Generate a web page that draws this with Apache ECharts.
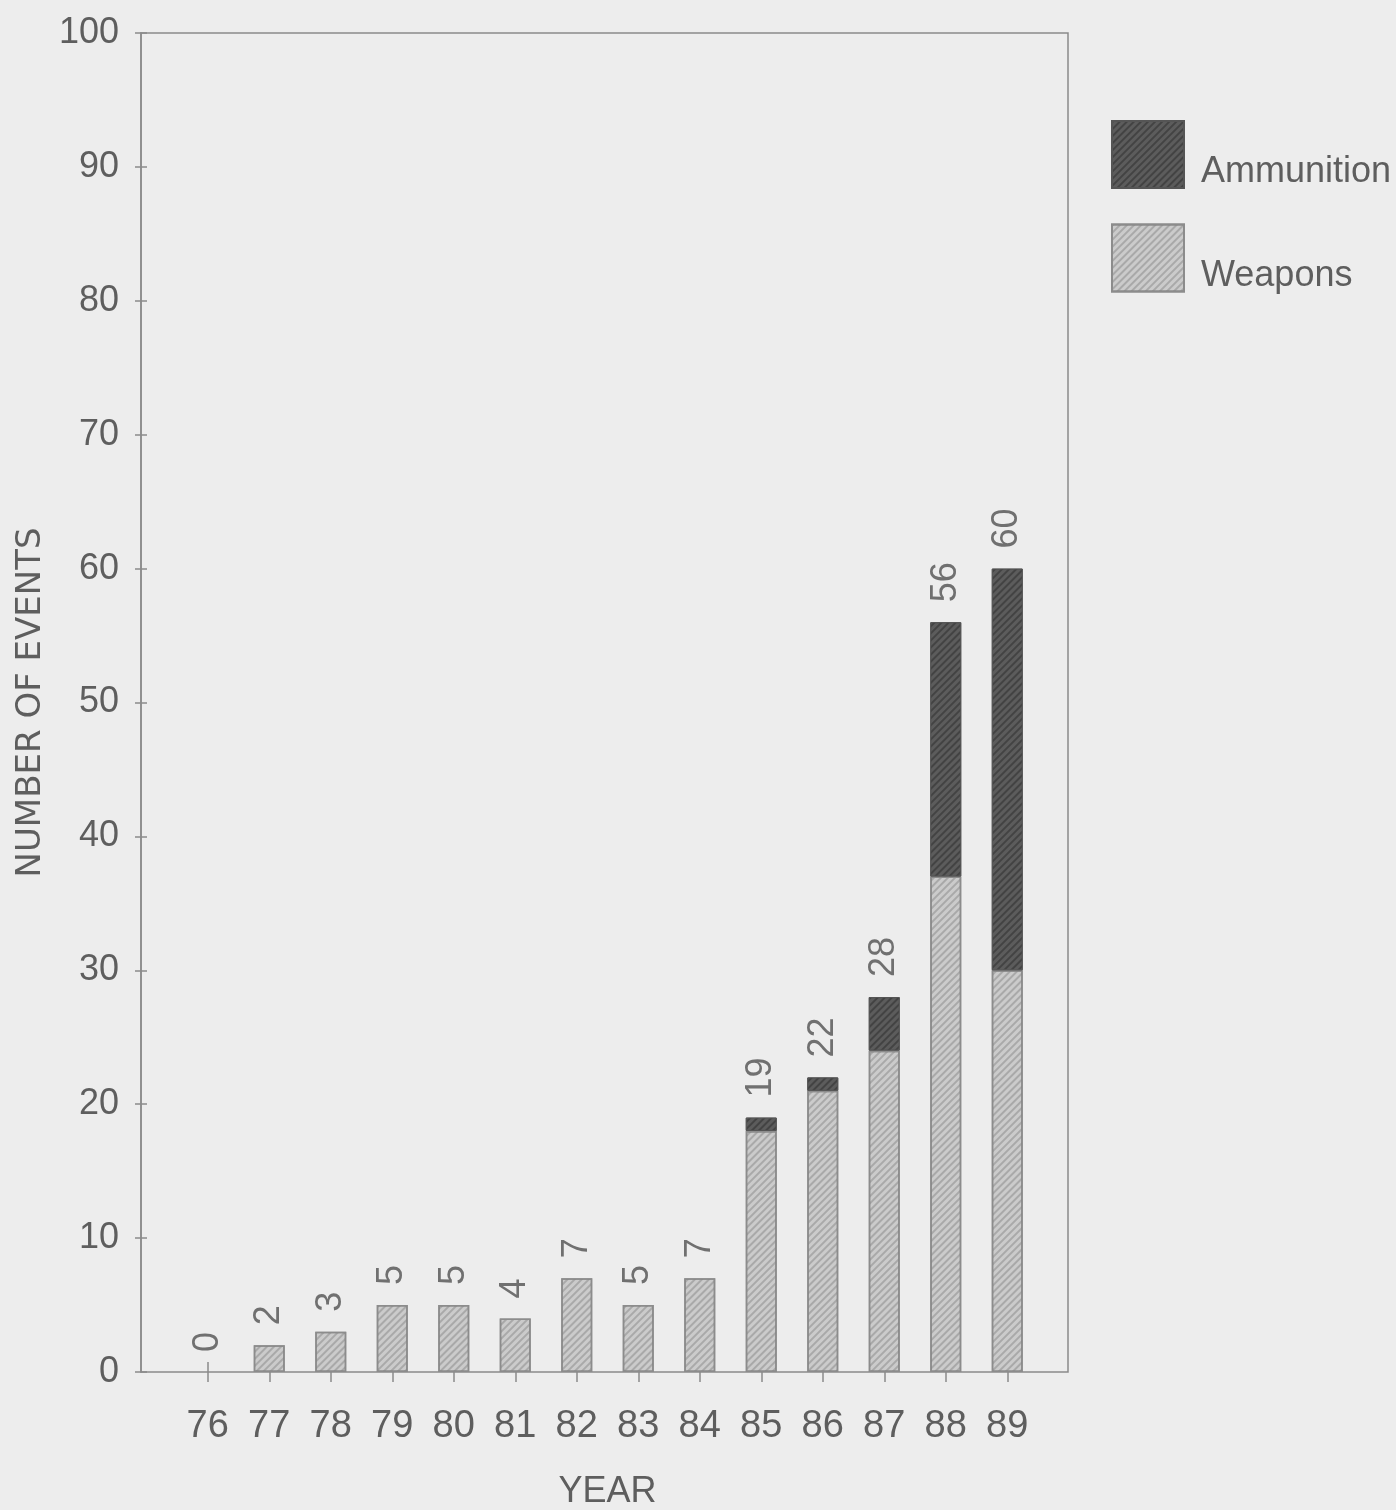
<!DOCTYPE html>
<html>
<head>
<meta charset="utf-8">
<script src="https://cdn.jsdelivr.net/npm/echarts@6/dist/echarts.min.js"></script>
<style>
  html, body { margin: 0; padding: 0; background: #ededed; }
  #chart { width: 1396px; height: 1510px; }
</style>
</head>
<body>
<div id="chart"></div>
<script>
// ---- data ----
var years = ['76','77','78','79','80','81','82','83','84','85','86','87','88','89'];
var weapons = [0, 2, 3, 5, 5, 4, 7, 5, 7, 18, 21, 24, 37, 30];
var ammunition = [0, 0, 0, 0, 0, 0, 0, 0, 0, 1, 1, 4, 19, 30];
var yTicks = [0, 10, 20, 30, 40, 50, 60, 70, 80, 90, 100];

var totals = weapons.map(function (w, i) { return w + ammunition[i]; });

var FONT = '"Liberation Sans Narrow", "Liberation Sans", sans-serif';
var TXT = '#5e5e5e';
var LINE = '#8a8a8a';

var chart = echarts.init(document.getElementById('chart'), null, { renderer: 'canvas' });

var option = {
  backgroundColor: '#ededed',
  animation: false,
  legend: {
    orient: 'vertical',
    left: 1106,
    top: 115,
    itemWidth: 72,
    itemHeight: 67,
    itemGap: 33,
    icon: 'rect',
    data: ['Ammunition', 'Weapons'],
    formatter: '{t|{name}}',
    textStyle: {
      color: TXT,
      rich: { t: { fontFamily: FONT, fontSize: 36, color: TXT, padding: [36, 0, 0, 12] } }
    }
  },
  grid: [
    { left: 141, top: 33, width: 927, height: 1339, outerBoundsMode: 'none', containLabel: false,
      show: true, borderColor: LINE, borderWidth: 1.5, backgroundColor: 'transparent' },
    { left: 177, top: 33, width: 861, height: 1339, outerBoundsMode: 'none', containLabel: false }
  ],
  xAxis: [
    { type: 'value', gridIndex: 0, min: 0, max: 1, show: false },
    {
      type: 'category', gridIndex: 1, data: years, position: 'bottom',
      axisLine: { show: false },
      axisTick: { show: true, alignWithLabel: true, length: 10, lineStyle: { color: LINE, width: 1.5 } },
      axisLabel: { fontFamily: FONT, fontSize: 38, color: TXT, margin: 36 },
      name: 'YEAR', nameLocation: 'middle', nameGap: 102,
      nameTextStyle: { fontFamily: FONT, fontSize: 36, color: TXT }
    },
    {
      type: 'category', gridIndex: 1, data: years, position: 'bottom',
      axisLine: { show: false },
      axisTick: { show: true, inside: true, alignWithLabel: true, length: 10, lineStyle: { color: LINE, width: 1.5 } },
      axisLabel: { show: false }
    }
  ],
  yAxis: [
    {
      type: 'value', gridIndex: 0, min: 0, max: 100, interval: 10, position: 'left',
      splitLine: { show: false },
      axisLine: { show: true, lineStyle: { color: LINE, width: 1.5 } },
      axisTick: { show: true, length: 6, lineStyle: { color: LINE, width: 1.5 } },
      axisLabel: {
        fontFamily: FONT, fontSize: 36, color: TXT, margin: 22,
        formatter: function (v) { return yTicks.indexOf(v) >= 0 ? String(v) : ''; }
      },
      name: 'NUMBER OF EVENTS', nameLocation: 'middle', nameGap: 90, nameRotate: 90,
      nameTextStyle: { fontFamily: '"DejaVu Sans", sans-serif', fontSize: 34, color: TXT }
    },
    {
      type: 'value', gridIndex: 0, min: 0, max: 100, interval: 10, position: 'left',
      splitLine: { show: false }, axisLine: { show: false },
      axisTick: { show: true, inside: true, length: 6, lineStyle: { color: LINE, width: 1.5 } },
      axisLabel: { show: false }
    },
    { type: 'value', gridIndex: 1, min: 0, max: 100, interval: 10, show: false }
  ],
  series: [
    {
      name: 'Weapons', type: 'bar', stack: 'ev', xAxisIndex: 1, yAxisIndex: 2,
      barWidth: 31,
      data: weapons.map(function (v) { return v === 0 ? '-' : v; }),
      itemStyle: {
        color: '#cbcbcb', borderColor: '#8c8c8c', borderWidth: 1.5,
        decal: { symbol: 'rect', symbolSize: 1, dashArrayX: [1, 0], dashArrayY: [2, 3], rotation: -Math.PI / 4, color: 'rgba(90,90,90,0.3)' }
      }
    },
    {
      name: 'Ammunition', type: 'bar', stack: 'ev', xAxisIndex: 1, yAxisIndex: 2,
      barWidth: 31,
      data: ammunition.map(function (v) { return v === 0 ? '-' : v; }),
      itemStyle: {
        color: '#5c5c5c', borderColor: '#555555', borderWidth: 1,
        decal: { symbol: 'rect', symbolSize: 1, dashArrayX: [1, 0], dashArrayY: [2, 3], rotation: -Math.PI / 4, color: 'rgba(30,30,30,0.4)' }
      }
    },
    {
      name: 'Total', type: 'bar', xAxisIndex: 1, yAxisIndex: 2,
      barWidth: 31, barGap: '-100%', silent: true,
      data: totals,
      itemStyle: { color: 'rgba(0,0,0,0)', borderWidth: 0 },
      label: {
        show: true, position: 'top', rotate: 90, distance: 20,
        align: 'left', verticalAlign: 'middle',
        fontFamily: '"Liberation Sans", sans-serif', fontSize: 36, color: '#707070'
      }
    }
  ]
};

chart.setOption(option);
</script>
</body>
</html>
